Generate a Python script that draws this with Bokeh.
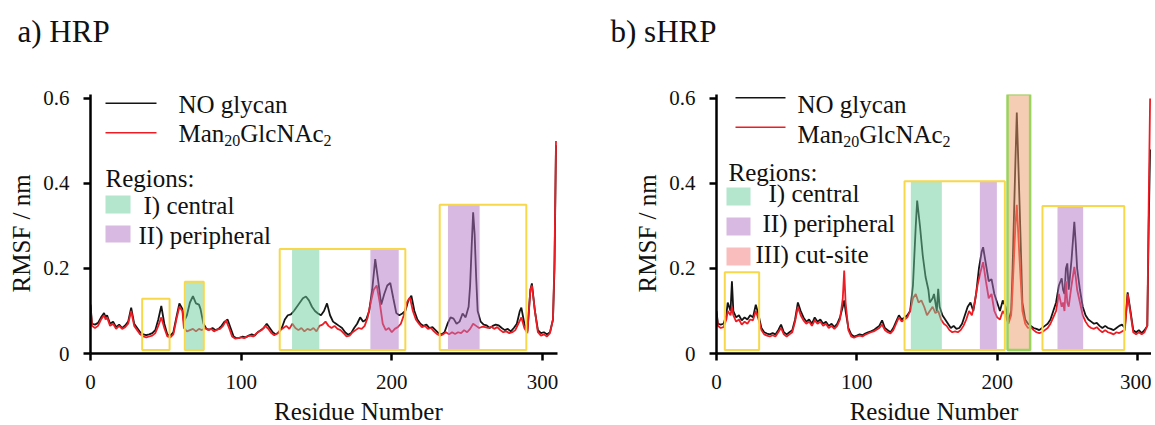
from bokeh.plotting import figure
from bokeh.layouts import row, column
from bokeh.models import FixedTicker
from bokeh.core.properties import value
from bokeh.embed import file_html
from bokeh.resources import INLINE

SERIF = "Liberation Serif"

# ---------------- data: panel a) HRP ----------------
A_BLACK_RES = [0, 1, 3, 5, 7, 9, 10, 11, 13, 15,
               17, 19, 21, 23, 25, 27, 29, 31, 33, 35,
               37, 39, 41, 43, 45, 47, 49, 51, 53, 55,
               57, 59, 61, 62, 64, 66, 68, 70, 72, 73,
               75, 77, 79, 81, 83, 85, 87, 89, 91, 93,
               95, 97, 99, 101, 103, 105, 107, 109, 111, 113,
               115, 117, 119, 121, 123, 125, 127, 129, 131, 133,
               135, 137, 139, 141, 143, 145, 147, 149, 151, 153,
               155, 157, 159, 161, 163, 165, 167, 169, 171, 173,
               175, 177, 179, 181, 183, 185, 187, 189, 191, 193,
               195, 197, 199, 201, 203, 205, 207, 209, 211, 213,
               215, 217, 219, 221, 223, 225, 227, 229, 231, 233,
               235, 237, 239, 241, 243, 245, 247, 249, 251, 252,
               253, 254, 255, 256, 257, 259, 261, 263, 265, 267,
               269, 271, 273, 275, 277, 279, 281, 283, 285, 286,
               288, 290, 292, 293, 295, 297, 299, 301, 303, 305,
               307, 308, 309]
A_BLACK_RMSF = [.115, .07, .068, .072, .085, .095, .085, .09, .07, .075,
                .062, .068, .06, .066, .075, .108, .07, .06, .05, .045,
                .043, .045, .048, .055, .08, .112, .07, .045, .042, .05,
                .085, .118, .105, .075, .09, .12, .135, .118, .115, .105,
                .07, .058, .056, .06, .055, .058, .065, .075, .08, .06,
                .04, .036, .037, .04, .038, .042, .045, .042, .05, .055,
                .06, .07, .06, .05, .045, .05, .06, .08, .09, .092,
                .1, .11, .12, .13, .134, .125, .11, .1, .094, .09,
                .1, .118, .09, .075, .07, .065, .06, .05, .044, .048,
                .06, .07, .085, .075, .08, .1, .15, .222, .17, .115,
                .14, .16, .166, .13, .095, .09, .094, .1, .125, .136,
                .1, .08, .07, .065, .068, .06, .062, .055, .048, .045,
                .05, .07, .085, .082, .07, .075, .094, .085, .11, .16,
                .25, .332, .28, .18, .1, .075, .068, .066, .06, .065,
                .068, .066, .06, .055, .058, .052, .06, .07, .1, .108,
                .07, .052, .15, .165, .1, .055, .048, .05, .045, .05,
                .08, .2, .49]

A_RED_RES = [0, 1, 3, 5, 7, 9, 10, 11, 13, 15,
             17, 19, 21, 23, 25, 27, 29, 31, 33, 35,
             37, 39, 41, 43, 45, 47, 49, 51, 53, 55,
             57, 59, 61, 62, 64, 66, 68, 70, 72, 74,
             76, 78, 80, 82, 84, 86, 88, 90, 92, 94,
             96, 98, 100, 102, 104, 106, 108, 110, 112, 114,
             116, 118, 120, 122, 124, 126, 128, 130, 132, 134,
             136, 138, 140, 142, 144, 146, 148, 150, 152, 154,
             156, 158, 160, 162, 164, 166, 168, 170, 172, 174,
             176, 178, 180, 182, 184, 186, 188, 190, 192, 194,
             196, 198, 200, 202, 204, 206, 208, 210, 212, 214,
             216, 218, 220, 222, 224, 226, 228, 230, 232, 234,
             236, 238, 240, 242, 244, 246, 248, 250, 252, 254,
             256, 258, 260, 262, 264, 266, 268, 270, 272, 274,
             276, 278, 280, 282, 284, 286, 288, 290, 292, 293,
             295, 297, 299, 301, 303, 305, 307, 308, 309]
A_RED_RMSF = [.11, .065, .06, .065, .08, .09, .08, .085, .065, .07,
              .058, .065, .058, .062, .07, .1, .065, .055, .045, .04,
              .038, .04, .042, .048, .065, .085, .06, .04, .038, .045,
              .08, .11, .1, .06, .052, .055, .058, .052, .058, .055,
              .06, .055, .058, .052, .056, .058, .065, .078, .06, .04,
              .035, .036, .038, .036, .04, .042, .04, .047, .052, .056,
              .065, .058, .048, .043, .047, .055, .06, .065, .058, .07,
              .06, .055, .06, .052, .058, .055, .06, .052, .065, .068,
              .075, .065, .06, .065, .058, .055, .048, .04, .042, .05,
              .055, .06, .058, .065, .085, .12, .15, .16, .12, .07,
              .055, .06, .05, .058, .062, .07, .09, .12, .132, .1,
              .08, .07, .062, .065, .058, .06, .052, .046, .042, .045,
              .05, .045, .05, .046, .05, .048, .055, .05, .058, .07,
              .065, .06, .063, .062, .06, .063, .058, .062, .055, .05,
              .052, .048, .05, .055, .07, .085, .06, .048, .15, .16,
              .1, .05, .042, .045, .04, .048, .08, .22, .5]

A_BOX_LEFT = [34.3, 62.6, 125.6, 231.8]
A_BOX_RIGHT = [52.5, 75.2, 209.0, 289.3]
A_BOX_TOP = [0.129, 0.169, 0.246, 0.350]
A_CENTRAL_LEFT = [63.0, 133.8]
A_CENTRAL_RIGHT = [75.0, 151.9]
A_CENTRAL_TOP = [0.169, 0.246]
A_PERIPH_LEFT = [185.8, 237.3]
A_PERIPH_RIGHT = [204.6, 258.3]
A_PERIPH_TOP = [0.246, 0.350]

# ---------------- data: panel b) sHRP ----------------
B_BLACK_RES = [0, 1, 3, 5, 7, 8, 10, 11, 12, 14,
               16, 18, 20, 22, 24, 26, 28, 30, 32, 34,
               36, 38, 40, 42, 44, 46, 48, 50, 52, 54,
               56, 58, 60, 62, 64, 66, 68, 70, 72, 74,
               76, 78, 80, 82, 84, 86, 88, 90, 91, 92,
               94, 96, 98, 100, 102, 104, 106, 108, 110, 112,
               114, 116, 118, 120, 122, 124, 126, 128, 130, 132,
               134, 136, 138, 140, 142, 143, 145, 147, 149, 151,
               152, 154, 155, 156, 157, 158, 159, 161, 163, 165,
               167, 169, 171, 173, 175, 177, 179, 181, 183, 185,
               187, 189, 190, 192, 194, 196, 198, 200, 202, 204,
               206, 208, 210, 211, 213, 214, 216, 218, 220, 222,
               224, 226, 228, 230, 232, 234, 236, 238, 240, 242,
               244, 246, 247, 248, 249, 250, 251, 253, 255, 256,
               257, 259, 261, 263, 265, 267, 269, 271, 273, 275,
               277, 279, 281, 283, 285, 287, 289, 291, 293, 295,
               297, 299, 301, 303, 305, 307, 308, 309]
B_BLACK_RMSF = [.1, .07, .068, .07, .09, .12, .1, .17, .1, .085,
                .09, .078, .085, .08, .09, .085, .115, .09, .06, .05,
                .047, .045, .048, .045, .055, .068, .05, .045, .05, .055,
                .08, .12, .1, .085, .075, .08, .07, .085, .075, .08,
                .07, .075, .065, .07, .062, .07, .085, .11, .125, .1,
                .06, .045, .04, .042, .045, .043, .047, .05, .052, .055,
                .06, .065, .078, .06, .055, .05, .06, .075, .09, .08,
                .085, .09, .1, .16, .3, .36, .3, .23, .18, .15,
                .12, .13, .14, .12, .1, .152, .11, .09, .08, .07,
                .06, .065, .058, .06, .07, .09, .11, .12, .1, .14,
                .2, .24, .25, .21, .17, .175, .14, .12, .1, .125,
                .11, .075, .1, .2, .45, .567, .35, .12, .08, .07,
                .065, .06, .058, .055, .06, .065, .07, .08, .1, .12,
                .16, .177, .15, .14, .2, .212, .15, .22, .31, .26,
                .2, .15, .11, .09, .08, .075, .07, .072, .065, .06,
                .065, .06, .058, .055, .06, .065, .068, .06, .144, .1,
                .055, .05, .055, .048, .055, .065, .3, .48]

B_RED_RES = [0, 1, 3, 5, 7, 8, 10, 11, 12, 14,
             16, 18, 20, 22, 24, 26, 28, 30, 32, 34,
             36, 38, 40, 42, 44, 46, 48, 50, 52, 54,
             56, 58, 60, 62, 64, 66, 68, 70, 72, 74,
             76, 78, 80, 82, 84, 86, 88, 90, 91, 92,
             94, 96, 98, 100, 102, 104, 106, 108, 110, 112,
             114, 116, 118, 120, 122, 124, 126, 128, 130, 132,
             134, 136, 138, 140, 142, 144, 146, 148, 150, 152,
             154, 156, 158, 160, 162, 164, 166, 168, 170, 172,
             174, 176, 178, 180, 182, 184, 186, 188, 190, 192,
             194, 196, 198, 200, 202, 204, 206, 208, 210, 211,
             213, 214, 216, 218, 220, 222, 224, 226, 228, 230,
             232, 234, 236, 238, 240, 242, 244, 246, 247, 248,
             249, 250, 251, 253, 255, 256, 257, 259, 261, 263,
             265, 267, 269, 271, 273, 275, 277, 279, 281, 283,
             285, 287, 289, 291, 293, 295, 297, 299, 301, 303,
             305, 307, 308, 309]
B_RED_RMSF = [.095, .065, .06, .062, .08, .1, .09, .11, .09, .075,
              .08, .068, .075, .07, .08, .078, .1, .08, .055, .045,
              .042, .04, .043, .04, .05, .06, .045, .04, .045, .05,
              .075, .11, .09, .078, .07, .075, .065, .078, .07, .075,
              .065, .07, .06, .065, .058, .065, .08, .13, .195, .12,
              .055, .04, .037, .04, .042, .04, .044, .047, .05, .052,
              .056, .06, .068, .055, .05, .047, .055, .07, .085, .075,
              .08, .085, .1, .13, .14, .12, .125, .11, .09, .1,
              .11, .095, .1, .08, .07, .065, .055, .05, .052, .05,
              .055, .065, .08, .1, .09, .12, .16, .19, .215, .17,
              .13, .14, .1, .085, .08, .1, .09, .07, .09, .15,
              .3, .35, .22, .1, .07, .06, .062, .055, .05, .048,
              .05, .055, .06, .07, .085, .1, .14, .11, .12, .1,
              .17, .12, .11, .16, .204, .18, .15, .12, .09, .075,
              .065, .06, .058, .062, .055, .05, .055, .05, .048, .045,
              .05, .048, .052, .055, .14, .095, .05, .045, .05, .045,
              .05, .065, .35, .6]

B_BOX_LEFT = [5.9, 134.0, 232.3]
B_BOX_RIGHT = [30.4, 205.5, 290.6]
B_BOX_TOP = [0.191, 0.405, 0.347]
B_CENTRAL_LEFT = [138.5]
B_CENTRAL_RIGHT = [160.6]
B_CENTRAL_TOP = [0.405]
B_PERIPH_LEFT = [187.7, 243.0]
B_PERIPH_RIGHT = [199.8, 261.3]
B_PERIPH_TOP = [0.405, 0.347]
B_CUT_LEFT = [207.4]
B_CUT_RIGHT = [223.5]
B_CUT_TOP = [0.610]

X_TICKS = [0, 100, 200, 300]
Y_TICKS = [0, 0.2, 0.4, 0.6]
Y_LABELS = {0: "0", 0.2: "0.2", 0.4: "0.4", 0.6: "0.6"}
TITLES = ["a) HRP", "b) sHRP"]
X_TITLE = "Residue Number"
Y_TITLE = "RMSF / nm"
SERIES_NAMES = ["NO glycan", "Man", "20", "GlcNAc", "2"]
REGION_NAMES = ["I) central", "II) peripheral", "III) cut-site"]

# ---------------- styling / layout (pixel positions = picture coords) ----
HEADER_H = 58
X_MAX = 310
Y_MAX = 0.6094
FRAME_H = 259
TOP = 36
BOTTOM = 70
PAGE_BOTTOM = HEADER_H + TOP + FRAME_H   # y of RMSF = 0 (353)

A_W, A_BL, A_FW = 600, 90, 467          # panel a: width, left border, frame
B_BL, B_FW = 116, 435                   # panel b: left border, frame
TOTAL_W = A_W + B_BL + B_FW
NBSP = "\u00a0"
CURVE_W = 1.8

GREEN_FILL = "#69cd9b"
PURPLE_FILL = "#af73c3"
PEACH_FILL = "#eb9b69"
GREEN_KEY = "#b4e6cd"
PURPLE_KEY = "#d7b9e1"
PINK_KEY = "#f9bdbd"
GOLD = "#f8d84a"
LIME = "#98d45c"
INK = "#111111"
BLACK_LINE = "#141414"
RED_LINE = "#ee1c24"


def make_panel(page_left, fw, bl, br, x_pad,
               bx, by, rx, ry, boxes, centrals, periphs, cut, legend):
    p = figure(output_backend="svg", toolbar_location=None,
               frame_width=fw, frame_height=FRAME_H,
               x_range=(0, X_MAX), y_range=(0, Y_MAX),
               min_border_left=bl, min_border_right=br,
               min_border_top=TOP, min_border_bottom=BOTTOM,
               background_fill_color="white", border_fill_color="white")
    p.outline_line_color = None
    p.grid.visible = False

    def d(px, py):
        return ((px - page_left) / fw * X_MAX,
                (PAGE_BOTTOM - py) / FRAME_H * Y_MAX)

    # curves
    p.line(bx, by, line_color=BLACK_LINE, line_width=CURVE_W)
    p.line(rx, ry, line_color=RED_LINE, line_width=CURVE_W)

    # shaded regions (translucent overlay)
    for (l, r, t), col in ((centrals, GREEN_FILL), (periphs, PURPLE_FILL),
                           (cut, PEACH_FILL)):
        if l:
            p.quad(left=l, right=r, top=t, bottom=[0.006] * len(l),
                   fill_color=col, fill_alpha=0.5, line_color=None)
    l, r, t = boxes
    p.quad(left=l, right=r, top=t, bottom=[0.008] * len(l),
           fill_color=None, line_color=GOLD, line_width=2)
    if cut[0]:
        l, r, t = cut
        p.quad(left=l, right=r, top=t, bottom=[0.008] * len(l),
               fill_color=None, line_color=LIME, line_width=2.5)

    # legend
    lx0, lx1, ly_b, ly_r, tx, ty_b, ty_r = legend["lines"]
    for ly, col in ((ly_b, BLACK_LINE), (ly_r, RED_LINE)):
        a = d(lx0, ly)
        b = d(lx1, ly)
        p.line([a[0], b[0]], [a[1], b[1]], line_color=col, line_width=1.6)
    big = value("25px")
    small = value("16px")
    pieces = [(SERIES_NAMES[0], tx, ty_b, big),
              (SERIES_NAMES[1], tx, ty_r, big),
              (SERIES_NAMES[2], tx + 45.8, ty_r + 7, small),
              (SERIES_NAMES[3], tx + 61.8, ty_r, big),
              (SERIES_NAMES[4], tx + 145.1, ty_r + 7, small)]
    for txt, px, py, fs in pieces:
        x, y = d(px, py)
        p.text(x=[x], y=[y], text=[txt], text_font=value(SERIF),
               text_font_size=fs, text_baseline="middle", text_align="left",
               text_color=INK)
    x, y = d(*legend["regions"])
    p.text(x=[x], y=[y], text=["Regions:"], text_font=value(SERIF),
           text_font_size=big, text_baseline="middle", text_align="left",
           text_color=INK)
    for (sq, (txp, typ)), name in zip(legend["keys"], REGION_NAMES):
        (sx0, sx1, sy0, sy1, col) = sq
        a = d(sx0, sy0)
        b = d(sx1, sy1)
        p.quad(left=[a[0]], right=[b[0]], top=[a[1]], bottom=[b[1]],
               fill_color=col, line_color=None)
        x, y = d(txp, typ)
        p.text(x=[x], y=[y], text=[name], text_font=value(SERIF),
               text_font_size=big, text_baseline="middle", text_align="left",
               text_color=INK)

    # axes
    for ax in (p.xaxis[0], p.yaxis[0]):
        ax.axis_line_width = 2.5
        ax.axis_line_color = "black"
        ax.major_tick_line_width = 2.5
        ax.major_tick_line_color = "black"
        ax.major_tick_in = 0
        ax.major_tick_out = 7
        ax.minor_tick_line_color = None
        ax.major_label_text_font = SERIF
        ax.major_label_text_font_size = "21px"
        ax.major_label_text_color = INK
        ax.axis_label_text_font = SERIF
        ax.axis_label_text_font_size = "25px"
        ax.axis_label_text_font_style = "normal"
        ax.axis_label_text_color = INK
    p.xaxis.ticker = FixedTicker(ticks=X_TICKS)
    p.yaxis.ticker = FixedTicker(ticks=Y_TICKS)
    p.yaxis.major_label_overrides = Y_LABELS
    # non-breaking spaces nudge the titles to where the original has them
    p.xaxis.axis_label = NBSP * x_pad + X_TITLE
    p.yaxis.axis_label = Y_TITLE + NBSP * 3
    p.xaxis.major_label_standoff = 14
    p.xaxis.axis_label_standoff = 6
    p.yaxis.major_label_standoff = 14
    p.yaxis.axis_label_standoff = 5
    return p


legend_a = {
    "lines": (105, 156, 102.7, 132.3, 178, 104, 133),
    "regions": (105, 178),
    "keys": [((105, 130, 195, 213, GREEN_KEY), (143, 204.5)),
             ((105, 130, 225, 242, PURPLE_KEY), (138, 234.5))],
}
legend_b = {
    "lines": (735, 785, 97.3, 126.7, 797, 104, 134),
    "regions": (728, 172),
    "keys": [((726, 750, 187, 205, GREEN_KEY), (768, 193)),
             ((726, 750, 217, 235, PURPLE_KEY), (762, 223)),
             ((726, 750, 247, 265, PINK_KEY), (755, 254))],
}

# header with the panel titles
header = figure(output_backend="svg", toolbar_location=None,
                width=TOTAL_W, height=HEADER_H,
                x_range=(0, TOTAL_W), y_range=(0, HEADER_H),
                x_axis_type=None, y_axis_type=None,
                min_border=0, background_fill_color="white",
                border_fill_color="white")
header.outline_line_color = None
header.grid.visible = False
title_px = [(17, 31), (610, 31)]
header.text(x=[px for px, _ in title_px],
            y=[HEADER_H - py for _, py in title_px],
            text=TITLES, text_font=value(SERIF), text_font_size=value("31px"),
            text_baseline="middle", text_align="left", text_color=INK)

pa = make_panel(A_BL, A_FW, A_BL, A_W - A_BL - A_FW, 11,
                A_BLACK_RES, A_BLACK_RMSF, A_RED_RES, A_RED_RMSF,
                (A_BOX_LEFT, A_BOX_RIGHT, A_BOX_TOP),
                (A_CENTRAL_LEFT, A_CENTRAL_RIGHT, A_CENTRAL_TOP),
                (A_PERIPH_LEFT, A_PERIPH_RIGHT, A_PERIPH_TOP),
                ([], [], []), legend_a)
pb = make_panel(A_W + B_BL, B_FW, B_BL, 0, 0,
                B_BLACK_RES, B_BLACK_RMSF, B_RED_RES, B_RED_RMSF,
                (B_BOX_LEFT, B_BOX_RIGHT, B_BOX_TOP),
                (B_CENTRAL_LEFT, B_CENTRAL_RIGHT, B_CENTRAL_TOP),
                (B_PERIPH_LEFT, B_PERIPH_RIGHT, B_PERIPH_TOP),
                (B_CUT_LEFT, B_CUT_RIGHT, B_CUT_TOP), legend_b)

layout = column(header, row(pa, pb))
open("out.html", "w").write(file_html(layout, INLINE))
